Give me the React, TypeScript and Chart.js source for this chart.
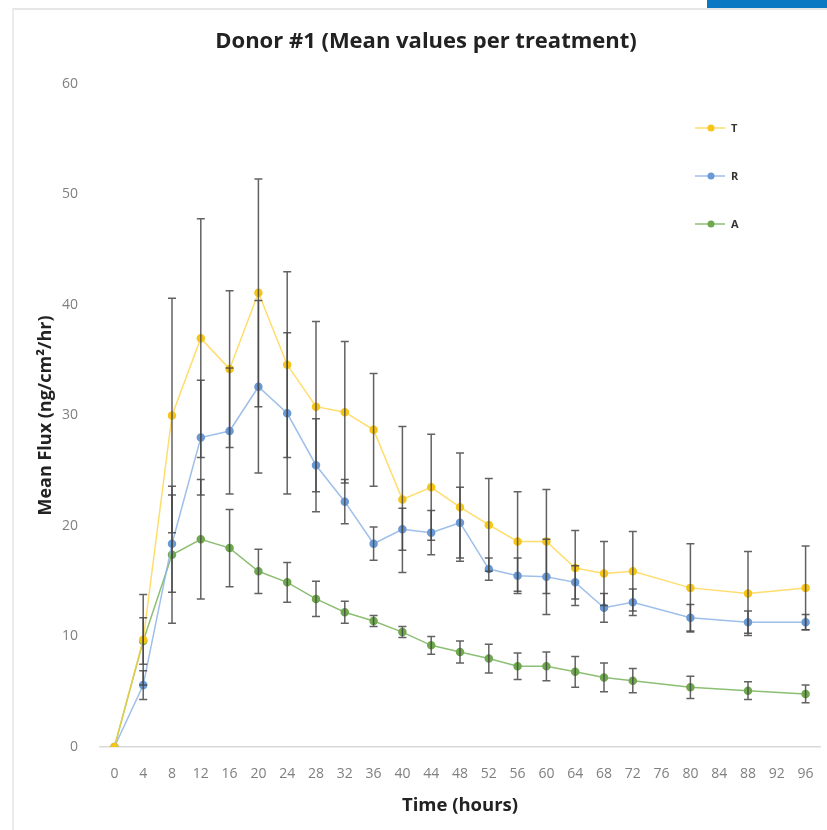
import React, { useEffect, useRef } from "react";
import { Chart, registerables } from "chart.js";

Chart.register(...registerables);

const hours = ["0","4","8","12","16","20","24","28","32","36","40","44","48","52","56","60","64","68","72","76","80","84","88","92","96"];

const tMean = [0, 9.7, 30.0, 37.0, 34.2, 41.1, 34.6, 30.8, 30.3, 28.7, 22.4, 23.5, 21.7, 20.1, 18.6, 18.6, 16.2, 15.7, 15.9, null, 14.4, null, 13.9, null, 14.4];
const tErr  = [0, 4.1, 10.6, 10.8, 7.1, 10.3, 8.4, 7.7, 6.4, 5.1, 6.6, 4.8, 4.9, 4.2, 4.5, 4.7, 3.4, 2.9, 3.6, null, 4.0, null, 3.8, null, 3.8];

const rMean = [0, 5.6, 18.4, 28.0, 28.6, 32.6, 30.2, 25.5, 22.2, 18.4, 19.7, 19.4, 20.3, 16.1, 15.5, 15.4, 14.9, 12.6, 13.1, null, 11.7, null, 11.3, null, 11.3];
const rErr  = [0, 1.3, 4.4, 5.2, 5.7, 7.8, 7.3, 4.2, 2.0, 1.5, 1.9, 2.0, 3.2, 1.0, 1.6, 3.4, 1.5, 1.3, 1.2, null, 1.2, null, 1.0, null, 0.7];

const aMean = [0, 9.6, 17.4, 18.8, 18.0, 15.9, 14.9, 13.4, 12.2, 11.4, 10.4, 9.2, 8.6, 8.0, 7.3, 7.3, 6.8, 6.3, 6.0, null, 5.4, null, 5.1, null, 4.8];
const aErr  = [0, 2.1, 6.2, 5.4, 3.5, 2.0, 1.8, 1.6, 1.0, 0.5, 0.5, 0.8, 1.0, 1.3, 1.2, 1.3, 1.4, 1.3, 1.1, null, 1.0, null, 0.8, null, 0.8];

const seriesNames = ["T", "R", "A"];
const yTicks = [0, 10, 20, 30, 40, 50, 60];

const lineColors = ["rgba(255,210,60,0.75)", "rgba(140,180,230,0.85)", "rgba(120,180,90,0.85)"];
const pointColors = ["#F5C518", "#6A9AD6", "#6FA84E"];

const errors = [tErr, rErr, aErr];

const errorBarPlugin = {
  id: "errorBars",
  afterDatasetsDraw(chart: any) {
    const ctx = chart.ctx;
    const x = chart.scales.x;
    const y = chart.scales.y;
    ctx.save();
    ctx.strokeStyle = "rgba(70,70,70,0.85)";
    ctx.lineWidth = 1.5;
    chart.data.datasets.forEach((ds: any, di: number) => {
      const err = errors[di];
      ds.data.forEach((v: number | null, i: number) => {
        if (v === null || err[i] === null || !err[i]) return;
        const px = x.getPixelForValue(i);
        const top = y.getPixelForValue(v + (err[i] as number));
        const bot = y.getPixelForValue(v - (err[i] as number));
        ctx.beginPath();
        ctx.moveTo(px, top);
        ctx.lineTo(px, bot);
        ctx.moveTo(px - 4, top);
        ctx.lineTo(px + 4, top);
        ctx.moveTo(px - 4, bot);
        ctx.lineTo(px + 4, bot);
        ctx.stroke();
      });
    });
    ctx.restore();
  },
};

const decorPlugin = {
  id: "decor",
  afterDraw(chart: any) {
    const ctx = chart.ctx;
    ctx.save();
    ctx.fillStyle = "#222";
    ctx.font = "bold 22px 'Open Sans'";
    ctx.textAlign = "center";
    ctx.textBaseline = "middle";
    ctx.fillText("Donor #1 (Mean values per treatment)", 426, 42);
    const rows = [128, 176, 224];
    seriesNames.forEach((name, i) => {
      const yy = rows[i];
      ctx.strokeStyle = lineColors[i];
      ctx.lineWidth = 1.5;
      ctx.beginPath();
      ctx.moveTo(695, yy);
      ctx.lineTo(725, yy);
      ctx.stroke();
      ctx.fillStyle = pointColors[i];
      ctx.beginPath();
      ctx.arc(711, yy, 3.5, 0, Math.PI * 2);
      ctx.fill();
      ctx.fillStyle = "#333";
      ctx.font = "bold 11px 'Open Sans'";
      ctx.textAlign = "left";
      ctx.fillText(name, 731, yy + 1);
    });
    ctx.restore();
  },
};

export default function App() {
  const ref = useRef<HTMLCanvasElement | null>(null);
  useEffect(() => {
    if (!ref.current) return;
    const means = [tMean, rMean, aMean];
    const chart = new Chart(ref.current, {
      type: "line",
      data: {
        labels: hours,
        datasets: seriesNames.map((n, i) => ({
          label: n,
          data: means[i],
          borderColor: lineColors[i],
          backgroundColor: pointColors[i],
          pointBackgroundColor: pointColors[i],
          pointBorderColor: pointColors[i],
          pointRadius: 3.5,
          borderWidth: 1.5,
          spanGaps: true,
          tension: 0,
        })),
      },
      options: {
        animation: false,
        responsive: false,
        layout: { padding: { top: 84, right: 7, bottom: 0, left: 35 } },
        plugins: { legend: { display: false }, tooltip: { enabled: false }, title: { display: false } },
        scales: {
          x: {
            offset: true,
            grid: { display: false, drawTicks: false },
            border: { display: true, color: "#d9d9d9", width: 1.5 },
            ticks: { color: "#7f7f7f", font: { family: "'Open Sans'", size: 14 }, padding: 19, maxRotation: 0, autoSkip: false },
            title: { display: true, text: "Time (hours)", color: "#222", font: { family: "'Open Sans'", size: 18.5, weight: "bold" }, padding: { top: 8, bottom: 13 } },
            afterFit(scale: any) {
              scale.height = 83;
              scale.paddingLeft = 0;
              scale.paddingRight = 0;
            },
          },
          y: {
            min: 0,
            max: 60,
            grid: { display: false, drawTicks: false },
            border: { display: false },
            afterBuildTicks(scale: any) { scale.ticks = yTicks.map((v) => ({ value: v })); },
            ticks: { color: "#7f7f7f", font: { family: "'Open Sans'", size: 14 }, padding: 22 },
            title: { display: true, text: "Mean Flux (ng/cm²/hr)", color: "#222", font: { family: "'Open Sans'", size: 18, weight: "bold" }, padding: { top: 0, bottom: 0 } },
            afterFit(scale: any) { scale.width = 65; },
          },
        },
      },
      plugins: [errorBarPlugin, decorPlugin],
    } as any);
    return () => chart.destroy();
  }, []);

  return (
    <div style={{ position: "absolute", left: 0, top: 0, width: 827, height: 830, background: "#fff" }}>
      <div style={{ position: "absolute", left: 12, top: 8, width: 815, height: 822, borderTop: "2px solid #e6e6e6", borderLeft: "2px solid #ececec", boxSizing: "border-box" }} />
      <div style={{ position: "absolute", left: 707, top: 0, width: 120, height: 8, background: "#0A78C2" }} />
      <canvas ref={ref} width={827} height={830} style={{ position: "absolute", left: 0, top: 0 }} />
    </div>
  );
}
